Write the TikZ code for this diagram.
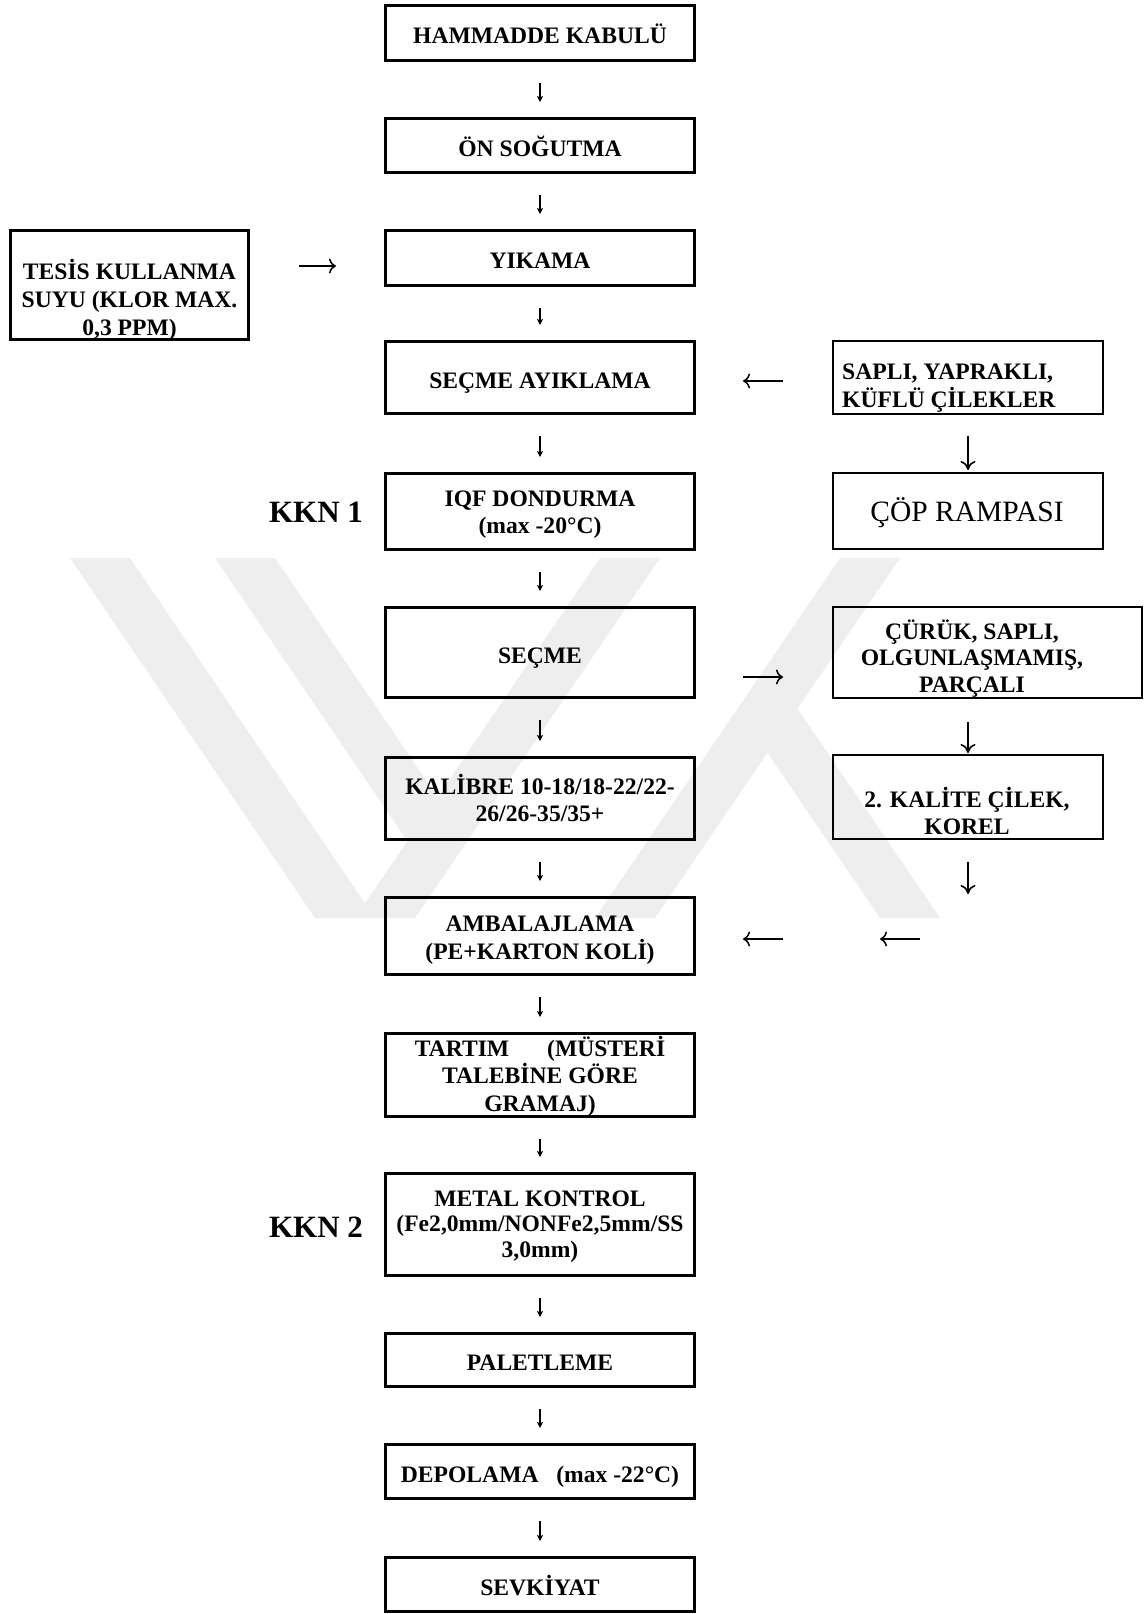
\documentclass[tikz,border=0pt]{standalone}
\usepackage{fontspec}
\setmainfont{Liberation Serif}
\usetikzlibrary{arrows.meta,calc}
\definecolor{wm}{RGB}{238,238,238}
\newcommand\bxf{\fontsize{23.6pt}{27.5pt}\selectfont\bfseries}
\newcommand\rbxf{\fontsize{23.6pt}{26.5pt}\selectfont\bfseries}
\newcommand\kknf{\fontsize{31pt}{34pt}\selectfont\bfseries}
\newcommand\copf{\fontsize{29.5pt}{32pt}\selectfont}
\tikzset{
  mainbox/.style={draw, line width=3pt, minimum width=309pt, inner sep=0pt, align=center, font=\bxf, text height=22pt, text depth=1pt},
  sidebox/.style={draw, line width=1.6pt, inner sep=0pt},
  btxt/.style={inner sep=0pt, align=center, font=\bxf},
  rtxt/.style={inner sep=0pt, align=center, font=\rbxf},
  kkn/.style={inner sep=0pt, font=\kknf},
  sarr/.style={line width=1.1pt, -{Stealth[length=6pt,width=6pt,inset=1.5pt]}},
  harr/.style={line width=1.5pt, -{Computer Modern Rightarrow[length=7pt,width=15pt]}},
  varr/.style={line width=1.6pt, -{Computer Modern Rightarrow[length=9pt,width=15pt]}},
}
\begin{document}
\begin{tikzpicture}[x=1pt,y=-1pt]
\useasboundingbox (0,0) rectangle (1147,1614);
% watermark
\fill[wm] (70,558) -- (130,558) -- (375,918) -- (315,918) -- cycle;
\fill[wm] (600,558) -- (660,558) -- (415,918) -- (355,918) -- cycle;
\fill[wm] (215,558) -- (275,558) -- (437.5,797) -- (407.4,841) -- cycle;
\fill[wm] (840,558) -- (900,558) -- (655,918) -- (595,918) -- cycle;
\fill[wm] (797.7,709) -- (940,918) -- (880,918) -- (767.6,753) -- cycle;

% main column
\node[mainbox, minimum height=55pt] (ham) at (540,33) {HAMMADDE KABULÜ};
\node[mainbox, minimum height=54pt] (on) at (540,145.5) {ÖN SOĞUTMA};
\node[mainbox, minimum height=55pt] (yik) at (540,258) {YIKAMA};
\node[mainbox, minimum height=72pt] (sa) at (540,377.5) {SEÇME AYIKLAMA};
\node[mainbox, minimum height=76pt] (iqf) at (540,511.5) {};
\node[btxt] (iqfT) at (540,514.5) {IQF DONDURMA\\(max -20°C)};
\node[mainbox, minimum height=90pt] (sec) at (540,652.5) {SEÇME};
\node[mainbox, minimum height=82pt] (kal) at (540,798.5) {};
\node[btxt] (kalT) at (540,798) {KALİBRE 10-18/18-22/22-\\26/26-35/35+};
\node[mainbox, minimum height=77pt] (amb) at (540,936) {};
\node[btxt] (ambT) at (540,940) {AMBALAJLAMA\\(PE+KARTON KOLİ)};
\node[mainbox, minimum height=83pt] (tar) at (540,1075) {};
\node[btxt] (tarT) at (540,1076) {TARTIM\hspace{38pt}(MÜSTERİ\\TALEBİNE GÖRE\\GRAMAJ)};
\node[mainbox, minimum height=102pt] (met) at (540,1224.5) {};
\node[btxt, font=\fontsize{23.6pt}{25.5pt}\selectfont\bfseries] (metT) at (540,1226.5) {METAL KONTROL\\(Fe2,0mm/NONFe2,5mm/SS\\3,0mm)};
\node[mainbox, minimum height=53pt] (pal) at (540,1360) {PALETLEME};
\node[mainbox, minimum height=54pt] (dep) at (540,1471.5) {DEPOLAMA\ \ \ (max -22°C)};
\node[mainbox, minimum height=54pt] (sev) at (540,1584.5) {SEVKİYAT};

% left input box
\node[draw, line width=3pt, minimum width=238pt, minimum height=109pt, inner sep=0pt] (tes) at (129.5,285) {};
\node[btxt, font=\fontsize{23.6pt}{28pt}\selectfont\bfseries] (tesT) at (129.5,300) {TESİS KULLANMA\\SUYU (KLOR MAX.\\0,3 PPM)};

% KKN labels
\node[kkn] (kkn1) at (316,512) {KKN 1};
\node[kkn] (kkn2) at (316,1227) {KKN 2};

% right column
\node[sidebox, minimum width=270.4pt, minimum height=73.4pt] (sapli) at (968,377.5) {};
\node[inner sep=0pt, align=left, anchor=west, font=\fontsize{23.6pt}{28.5pt}\selectfont\bfseries] (sapliT) at (842,388) {SAPLI, YAPRAKLI,\\KÜFLÜ ÇİLEKLER};
\node[sidebox, minimum width=270.4pt, minimum height=76.4pt] (cop) at (968,511) {};
\node[inner sep=0pt, font=\copf] (copT) at (967,512.5) {ÇÖP RAMPASI};
\node[sidebox, minimum width=309.4pt, minimum height=91.4pt] (cur) at (987.5,652.5) {};
\node[rtxt] (curT) at (972,658.5) {ÇÜRÜK, SAPLI,\\OLGUNLAŞMAMIŞ,\\PARÇALI};
\node[sidebox, minimum width=270.4pt, minimum height=84.4pt] (kalite) at (968,797) {};
\node[rtxt] (kaliteT) at (967,811) {2. KALİTE ÇİLEK,\\KOREL};

% main down arrows
\foreach \a/\b in {ham/on, on/yik, yik/sa, sa/iqf, iqf/sec, sec/kal, kal/amb, amb/tar, tar/met, met/pal, pal/dep, dep/sev}
  \draw[sarr] ([yshift=-21pt]\a.south) -- ([yshift=15pt]\b.north);

% horizontal arrows
\coordinate (h1a) at (299,266);
\coordinate (h1b) at (336,266);
\draw[harr] (h1a) -- (h1b);
\coordinate (h2a) at (783,381);
\coordinate (h2b) at (743,381);
\draw[harr] (h2a) -- (h2b);
\coordinate (h3a) at (743,677);
\coordinate (h3b) at (783,677);
\draw[harr] (h3a) -- (h3b);
\coordinate (h4a) at (783,939);
\coordinate (h4b) at (743,939);
\draw[harr] (h4a) -- (h4b);
\coordinate (h5a) at (920,939);
\coordinate (h5b) at (880,939);
\draw[harr] (h5a) -- (h5b);

% right column down arrows
\draw[varr] ([yshift=-21pt]sapli.south) -- ([yshift=2pt]cop.north);
\draw[varr] ($(kalite.north)+(0,-32)$) -- ([yshift=1pt]kalite.north);
\coordinate (v3e) at (968,894);
\draw[varr] ([yshift=-22pt]kalite.south) -- (v3e);
\end{tikzpicture}
\end{document}
